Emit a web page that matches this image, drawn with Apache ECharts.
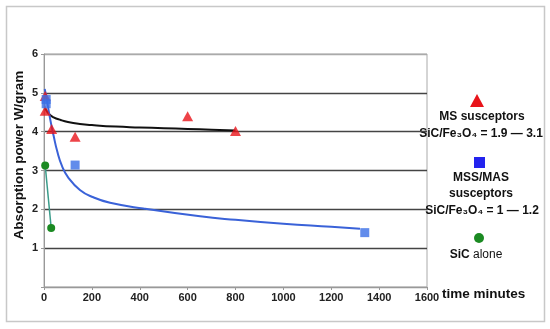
<!DOCTYPE html>
<html><head><meta charset="utf-8">
<script src="https://cdn.jsdelivr.net/npm/echarts@6/dist/echarts.min.js"></script>
<style>html,body{margin:0;padding:0;background:#fff}#c{width:550px;height:329px}</style>
</head><body><div id="c"></div>
<script>
const xTicks = [0, 200, 400, 600, 800, 1000, 1200, 1400, 1600];
const yTicks = [0, 1, 2, 3, 4, 5, 6];
const msPoints = [[5, 4.92], [5, 4.54], [32, 4.07], [130, 3.87], [600, 4.4], [800, 4.02]];
const msFit = [[5, 4.6], [20, 4.46], [40, 4.37], [70, 4.3], [100, 4.25], [150, 4.2], [200, 4.17], [300, 4.13], [400, 4.11], [500, 4.09], [600, 4.07], [700, 4.05], [800, 4.03]];
const mssPoints = [[9, 4.83], [9, 4.72], [130, 3.14], [1340, 1.4]];
const mssFit = [[3, 5.1], [11, 4.85], [25, 4.35], [40, 3.9], [55, 3.5], [75, 3.12], [100, 2.83], [150, 2.5], [206, 2.31], [276, 2.17], [415, 2.02], [652, 1.82], [800, 1.73], [1000, 1.63], [1200, 1.55], [1320, 1.5]];
const sicPoints = [[5, 3.13], [30, 1.52]];

const FONT = 'Liberation Sans, Arial, sans-serif';
const chart = echarts.init(document.getElementById('c'));
const gridColors = ['#999', '#444', '#444', '#444', '#444', '#444', '#aaa'];
chart.setOption({
  animation: false,
  backgroundColor: '#fff',
  grid: {left: 44, right: 123, top: 54, bottom: 42, show: true, borderColor: '#aaa', borderWidth: 1},
  xAxis: {
    type: 'value', min: xTicks[0], max: xTicks[xTicks.length - 1], interval: 200,
    axisLine: {show: true, lineStyle: {color: '#999', width: 1}},
    axisTick: {show: true, length: 3, lineStyle: {color: '#999'}},
    axisLabel: {fontFamily: FONT, fontWeight: 'bold', fontSize: 11, color: '#222', margin: 5,
      formatter: v => String(v)},
    splitLine: {show: false}
  },
  yAxis: {
    type: 'value', min: yTicks[0], max: yTicks[yTicks.length - 1], interval: 1,
    axisLine: {show: true, lineStyle: {color: '#999', width: 1}},
    axisTick: {show: true, length: 3, lineStyle: {color: '#999'}},
    axisLabel: {fontFamily: FONT, fontWeight: 'bold', fontSize: 11, color: '#222', margin: 6,
      formatter: v => v === 0 ? '' : String(v)},
    splitLine: {show: true, lineStyle: {color: gridColors, width: 1.3}}
  },
  series: [
    {type: 'line', data: msFit, smooth: true, showSymbol: false, symbol: 'none', lineStyle: {color: '#111', width: 2}, z: 2},
    {type: 'line', data: mssFit, smooth: true, showSymbol: false, symbol: 'none', lineStyle: {color: '#3a62d8', width: 2}, z: 2},
    {type: 'line', data: sicPoints, smooth: false, symbol: 'circle', symbolSize: 8, lineStyle: {color: '#3a9c8a', width: 1.5}, itemStyle: {color: '#1b8a22'}, z: 3},
    {type: 'scatter', data: msPoints, symbol: 'triangle', symbolSize: [11, 10], itemStyle: {color: '#e8141a'}, z: 4},
    {type: 'scatter', data: mssPoints, symbol: 'rect', symbolSize: 9, itemStyle: {color: '#3b6fe6'}, z: 4}
  ],
  graphic: [
    {type: 'rect', shape: {x: 6.5, y: 6.5, width: 538, height: 315}, style: {fill: 'none', stroke: '#c8c8c8', lineWidth: 1.5}, silent: true},
    {type: 'text', x: 19, y: 155, rotation: Math.PI / 2, style: {text: 'Absorption power W/gram', font: 'bold 13.5px ' + FONT, fill: '#111', align: 'center', verticalAlign: 'middle'}},
    {type: 'polygon', shape: {points: [[477, 94], [470, 107], [484, 107]]}, style: {fill: '#e8141a'}},
    {type: 'text', x: 482, y: 117, style: {text: 'MS susceptors', font: 'bold 12px ' + FONT, fill: '#111', align: 'center', verticalAlign: 'middle'}},
    {type: 'text', x: 481, y: 134, style: {text: 'SiC/Fe₃O₄ = 1.9 — 3.1', font: 'bold 12px ' + FONT, fill: '#111', align: 'center', verticalAlign: 'middle'}},
    {type: 'rect', shape: {x: 474, y: 157, width: 11, height: 11}, style: {fill: '#2323ee'}},
    {type: 'text', x: 481, y: 178, style: {text: 'MSS/MAS', font: 'bold 12px ' + FONT, fill: '#111', align: 'center', verticalAlign: 'middle'}},
    {type: 'text', x: 481, y: 194, style: {text: 'susceptors', font: 'bold 12px ' + FONT, fill: '#111', align: 'center', verticalAlign: 'middle'}},
    {type: 'text', x: 482, y: 211, style: {text: 'SiC/Fe₃O₄ = 1 — 1.2', font: 'bold 12px ' + FONT, fill: '#111', align: 'center', verticalAlign: 'middle'}},
    {type: 'circle', shape: {cx: 479, cy: 238, r: 5}, style: {fill: '#1b8a22'}},
    {type: 'text', x: 476, y: 255, style: {
      text: '{b|SiC} {n|alone}', align: 'center', verticalAlign: 'middle',
      rich: {b: {font: 'bold 12px ' + FONT, fill: '#111'}, n: {font: '12px ' + FONT, fill: '#111'}}}},
    {type: 'text', x: 442, y: 294, style: {text: 'time minutes', font: 'bold 13.5px ' + FONT, fill: '#111', align: 'left', verticalAlign: 'middle'}}
  ]
});
</script></body></html>
